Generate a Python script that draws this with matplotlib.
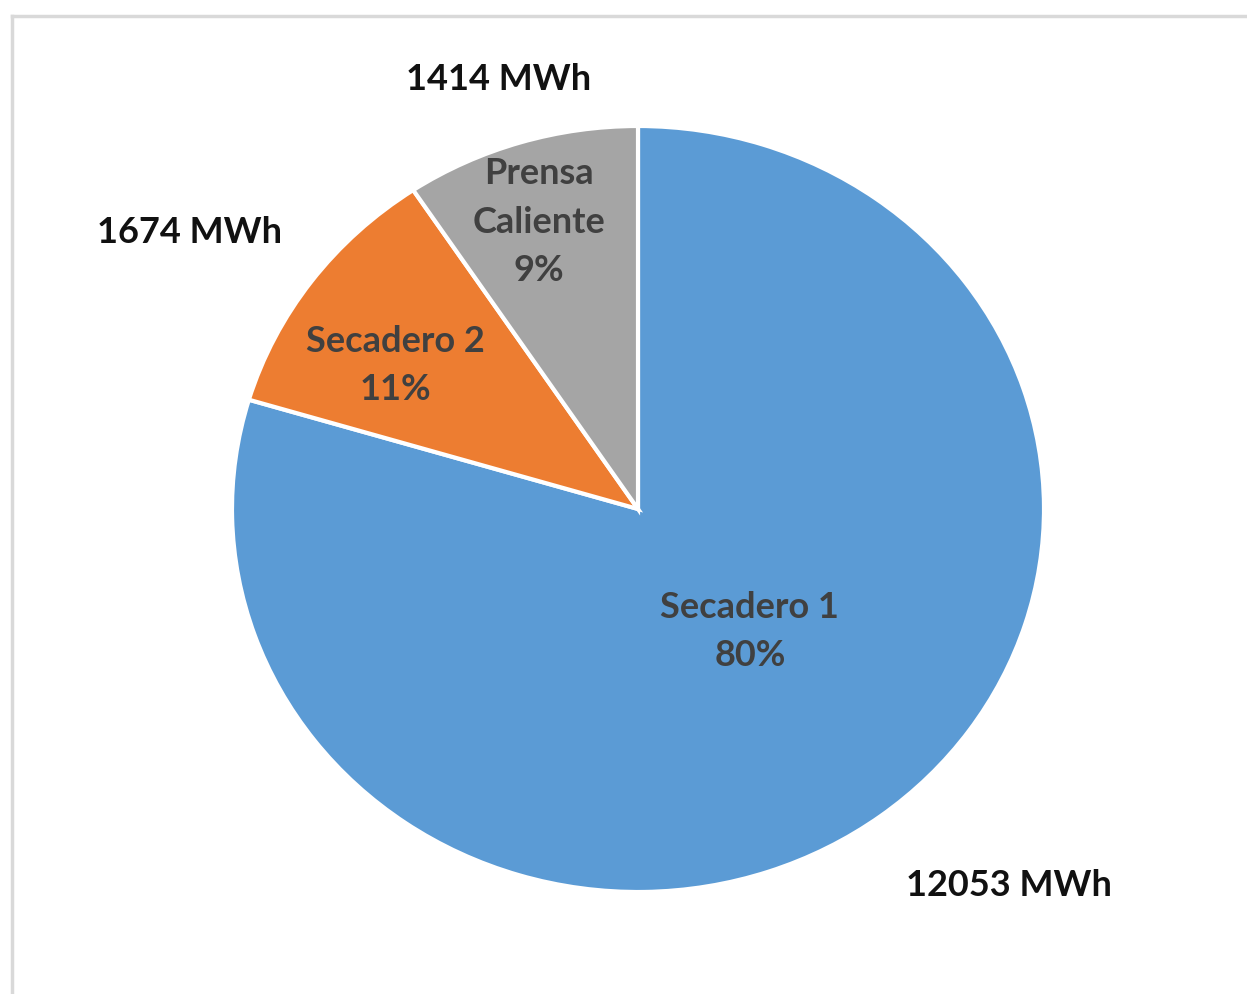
import numpy as np
import matplotlib
matplotlib.use("Agg")
import matplotlib.pyplot as plt
from matplotlib.lines import Line2D

categories = ["Secadero 1", "Secadero 2", "Prensa\nCaliente"]
energy_mwh = [12053, 1674, 1414]
colors = ["#5B9BD5", "#ED7D31", "#A5A5A5"]

W, H = 1247, 995
fig = plt.figure(figsize=(W / 100, H / 100), dpi=100)
fig.patch.set_facecolor("white")

# chart frame (light gray)
fig.add_artist(Line2D([12 / W, 1.0], [1 - 17 / H, 1 - 17 / H], color="#D9D9D9", lw=2.5,
                      transform=fig.transFigure))
fig.add_artist(Line2D([12 / W, 12 / W], [1 - 17 / H, 0.0], color="#D9D9D9", lw=2.5,
                      transform=fig.transFigure))

cx, cy, rx, ry = 638, 510, 406, 383
ax = fig.add_axes([(cx - rx) / W, (H - cy - ry) / H, 2 * rx / W, 2 * ry / H])

wedges, _ = ax.pie(energy_mwh, colors=colors, startangle=90, counterclock=False,
                   radius=1.0, wedgeprops=dict(edgecolor="white", linewidth=3))
ax.set_aspect("auto")
ax.set_xlim(-1, 1)
ax.set_ylim(-1, 1)
ax.set_axis_off()

total = sum(energy_mwh)
font = ["Lato", "DejaVu Sans"]
# label placement: (radius, angle shift in degrees) relative to each wedge's mid-angle
inner_pos = [(0.42, 4.3), (0.707, 4.3), (0.79, 1.2)]
outer_pos = [(1.34, 6.3), (1.32, 3.2), (1.175, 0.2)]
for w, name, val, (ri, ai), (ro, ao) in zip(wedges, categories, energy_mwh, inner_pos, outer_pos):
    mid = (w.theta1 + w.theta2) / 2
    pct = round(100 * val / total)
    t_in = np.deg2rad(mid + ai)
    t_out = np.deg2rad(mid + ao)
    ax.text(ri * np.cos(t_in), ri * np.sin(t_in), f"{name}\n{pct}%", ha="center", va="center",
            fontsize=26, fontweight="bold", color="#404040", family=font, linespacing=1.57)
    ax.text(ro * np.cos(t_out), ro * np.sin(t_out), f"{val} MWh", ha="center", va="center",
            fontsize=26, fontweight="bold", color="#111111", family=font, clip_on=False)

fig.savefig("out.png", dpi=100, facecolor="white")
